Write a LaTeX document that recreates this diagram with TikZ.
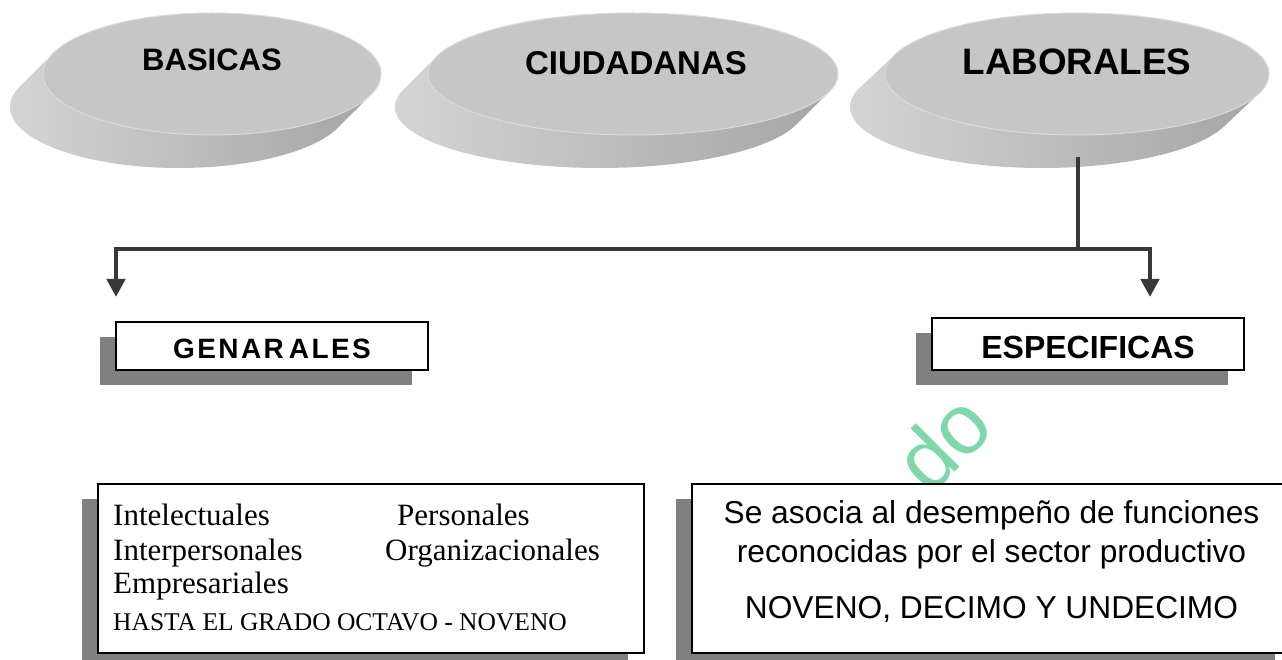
\documentclass[tikz,border=0pt]{standalone}
\usepackage{fontspec}
\setmainfont{Liberation Serif}
\newfontfamily\arial{Liberation Sans}
\usetikzlibrary{arrows.meta,shadows,shapes.geometric}
\definecolor{discTop}{HTML}{C6C6C6}
\definecolor{discRim}{HTML}{DADADA}
\definecolor{discL}{HTML}{D4D4D4}
\definecolor{discR}{HTML}{A4A4A4}
\definecolor{shadowGray}{HTML}{808080}
\definecolor{connC}{HTML}{383838}
\definecolor{wmGreen}{HTML}{80D8AA}
\newcommand\lsp{\kern2.4pt}
\tikzset{
  disctop/.style={ellipse, fill=discTop, draw=discRim, line width=1pt, inner sep=0pt},
  disctext/.style={anchor=base, inner sep=0pt, font={\arial\bfseries\fontsize{#1}{#1}\selectfont}},
  boxS/.style={rectangle, draw=black, line width=1.5pt, fill=white, inner sep=0pt,
    drop shadow={shadow xshift=-16pt, shadow yshift=-15pt, fill=shadowGray, opacity=1, draw=none}},
  headtext/.style={font={\arial\bfseries\fontsize{#1}{#1}\selectfont}},
  serifline/.style={anchor=base west, inner sep=0pt, font={\fontsize{#1}{#1}\selectfont}},
  sansline/.style={anchor=base, inner sep=0pt, font={\arial\fontsize{31.7}{34}\selectfont}},
  conn/.style={draw=connC, line width=4.5pt},
  arr/.style={conn, -{Triangle[width=18pt,length=18pt]}},
}
\begin{document}
\begin{tikzpicture}[x=1pt,y=-1pt]
\useasboundingbox[fill=white] (0,0) rectangle (1282,660);

% --- discs: sides (extrusion) ---
\shade[left color=discL, right color=discR]
  \foreach \k in {0,1,...,33} {(212-\k,74+\k) ellipse [x radius=169, y radius=61]};
\shade[left color=discL, right color=discR]
  \foreach \k in {0,1,...,33} {(633-\k,74+\k) ellipse [x radius=205, y radius=61]};
\shade[left color=discL, right color=discR]
  \foreach \k in {0,1,...,35} {(1077-\k,74+\k*0.943) ellipse [x radius=192, y radius=61]};

% --- discs: top faces ---
\node[disctop, minimum width=338pt, minimum height=122pt] (bas) at (212,74) {};
\node[disctop, minimum width=410pt, minimum height=122pt] (ciu) at (633,74) {};
\node[disctop, minimum width=384pt, minimum height=122pt] (lab) at (1077,74) {};
\node[disctext=31] (basT) at (212,71) {BASICAS};
\node[disctext=33] (ciuT) at (636,75) {CIUDADANAS};
\node[disctext=36.8] (labT) at (1077,75) {LABORALES};

% --- connectors ---
\coordinate (ls) at (1078,157);
\coordinate (j) at (1078,249);
\coordinate (ga) at (116,297);
\coordinate (ea) at (1150,297);
\draw[conn] (ls) -- (j);
\draw[arr] (j) -| (ga);
\draw[arr] (j) -| (ea);

% --- headings ---
\node[boxS, headtext=28, minimum width=312pt, minimum height=48pt, text height=24pt, text depth=0pt]
  (gen) at (272,346) {G\lsp E\lsp N\lsp A\lsp R\kern5pt A\lsp L\lsp E\lsp S};
\node[boxS, headtext=32, minimum width=312pt, minimum height=52pt, text height=28pt, text depth=0pt]
  (esp) at (1088,344) {ESPECIFICAS};

% --- watermark ---
\node[anchor=base west, rotate=45, inner sep=0pt, text=wmGreen, font={\arial\fontsize{85}{90}\selectfont}]
  (wm) at (930,497) {do};

% --- bottom boxes ---
\node[boxS, minimum width=546pt, minimum height=169pt] (genB) at (371,568.5) {};
\node[boxS, minimum width=599pt, minimum height=169pt] (espB) at (991.5,568.5) {};

\node[serifline=31] (t1) at (113,525) {Intelectuales};
\node[serifline=31] (t2) at (397,525) {Personales};
\node[serifline=31] (t3) at (113,560) {Interpersonales};
\node[serifline=31] (t4) at (385,560) {Organizacionales};
\node[serifline=31] (t5) at (113,593) {Empresariales};
\node[serifline=25.5] (t6) at (113,630) {HASTA EL GRADO OCTAVO - NOVENO};

\node[sansline] (r1) at (991.5,523) {Se asocia al desempeño de funciones};
\node[sansline] (r2) at (991.5,562) {reconocidas por el sector productivo};
\node[sansline] (r3) at (991.5,618) {NOVENO, DECIMO Y UNDECIMO};
\end{tikzpicture}
\end{document}
